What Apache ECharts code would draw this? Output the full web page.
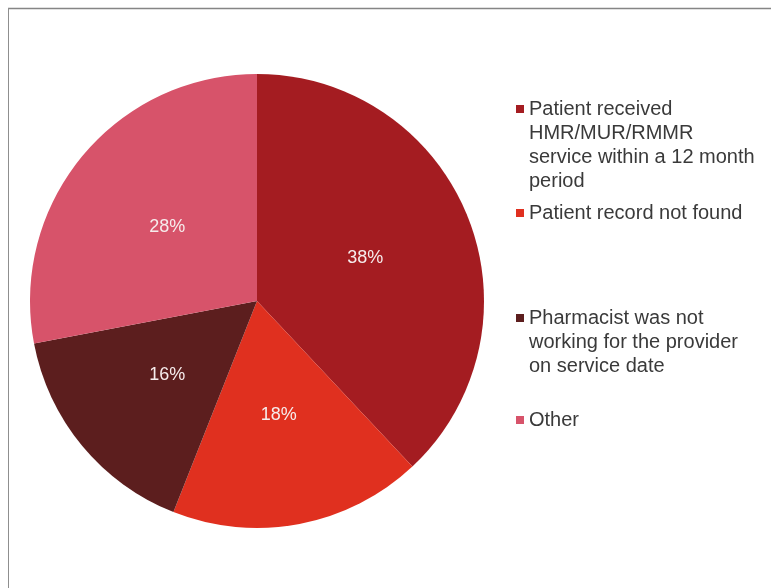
<!DOCTYPE html>
<html>
<head>
<meta charset="utf-8">
<title>Reasons for rejected claims</title>
<script src="https://cdn.jsdelivr.net/npm/echarts@6/dist/echarts.min.js"></script>
<style>
  html, body { margin: 0; padding: 0; background: #ffffff; }
  #chart { width: 771px; height: 588px; }
</style>
</head>
<body>
<div id="chart"></div>
<script>
// Reasons a claim was rejected, as shares of all rejected claims (%)
const categories = [
  'Patient received HMR/MUR/RMMR service within a 12 month period',
  'Patient record not found',
  'Pharmacist was not working for the provider on service date',
  'Other'
];
const shares = [38, 18, 16, 28];
const colors = ['#a41c21', '#e0301f', '#5c1e1e', '#d7536a'];

// Legend wording, broken into the lines shown beside each marker
const legendLines = [
  ['Patient received', 'HMR/MUR/RMMR', 'service within a 12 month', 'period'],
  ['Patient record not found'],
  ['Pharmacist was not', 'working for the provider', 'on service date'],
  ['Other']
];
// Vertical centre of the first line of each legend entry
const legendFirstLineY = [109, 213, 318, 420];

const LINE_H = 24;
const FONT = '"Liberation Sans", Arial, sans-serif';

// One legend block per entry so each sits at its own height.
// Legend text is centred on its marker, so n-1 empty lines are put in front
// of an n-line entry: the first real line then lands level with the marker.
const legends = categories.map((name, i) => {
  const lines = legendLines[i];
  const n = lines.length;
  const text = new Array(n - 1).fill('').concat(lines).join('\n');
  return {
    data: [name],
    orient: 'vertical',
    left: 516,
    top: legendFirstLineY[i] - (2 * n - 1) * LINE_H / 2,
    padding: 0,
    selectedMode: false,
    icon: 'rect',
    itemWidth: 8,
    itemHeight: 8,
    itemGap: 0,
    formatter: () => text,
    textStyle: {
      fontFamily: FONT,
      fontSize: 20,
      color: '#3a3a3a',
      lineHeight: LINE_H
    }
  };
});

const chart = echarts.init(document.getElementById('chart'), null, { renderer: 'canvas' });
chart.setOption({
  animation: false,
  backgroundColor: '#ffffff',
  color: colors,
  legend: legends,
  graphic: [
    { type: 'line', shape: { x1: 8, y1: 8.5, x2: 771, y2: 8.5 }, style: { stroke: '#858585', lineWidth: 1.5 } },
    { type: 'line', shape: { x1: 8.5, y1: 8, x2: 8.5, y2: 588 }, style: { stroke: '#8f8f8f', lineWidth: 1 } }
  ],
  series: [{
    type: 'pie',
    center: [257, 301],
    radius: 227,
    startAngle: 90,
    clockwise: true,
    avoidLabelOverlap: false,
    label: {
      show: true,
      position: 'inner',
      formatter: '{c}%',
      color: '#f6ecec',
      fontFamily: FONT,
      fontSize: 18
    },
    labelLine: { show: false },
    itemStyle: { borderWidth: 0 },
    emphasis: { disabled: true },
    data: categories.map((name, i) => ({ name, value: shares[i] }))
  }]
});
</script>
</body>
</html>
